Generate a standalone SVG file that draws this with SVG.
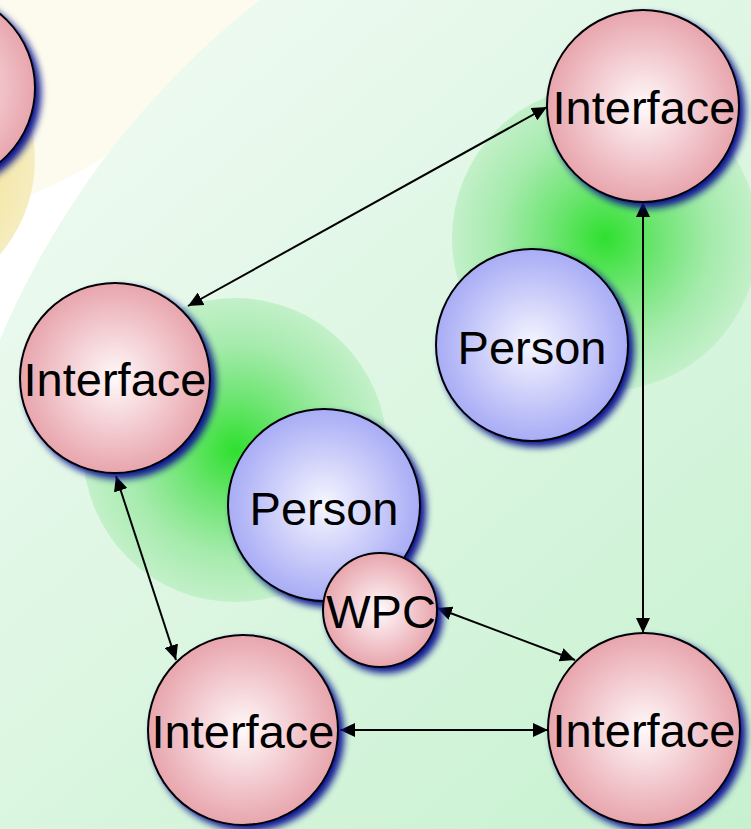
<svg xmlns="http://www.w3.org/2000/svg" width="751" height="829" viewBox="0 0 751 829">
  <defs>
    <linearGradient id="bgGreen" gradientUnits="userSpaceOnUse" x1="100" y1="80" x2="751" y2="829">
      <stop offset="0" stop-color="#eefaf1"/>
      <stop offset="1" stop-color="#c6f1cf"/>
    </linearGradient>
    <radialGradient id="glowGreen">
      <stop offset="0" stop-color="#2fe02f"/>
      <stop offset="0.35" stop-color="#6fe573"/>
      <stop offset="0.7" stop-color="#a6ebad"/>
      <stop offset="1" stop-color="#c3f0c9"/>
    </radialGradient>
    <radialGradient id="glowYellow">
      <stop offset="0" stop-color="#efdc6a"/>
      <stop offset="0.6" stop-color="#f2e49a"/>
      <stop offset="1" stop-color="#f6edc0"/>
    </radialGradient>
    <radialGradient id="fillInterface">
      <stop offset="0" stop-color="#fff9fa"/>
      <stop offset="1" stop-color="#e8a5ad"/>
    </radialGradient>
    <radialGradient id="fillPerson">
      <stop offset="0" stop-color="#f6f6ff"/>
      <stop offset="1" stop-color="#a8acf5"/>
    </radialGradient>
    <filter id="shadow" x="-20%" y="-20%" width="150%" height="150%">
      <feDropShadow dx="5" dy="5" stdDeviation="3.5" flood-color="#0a1890" flood-opacity="1"/>
    </filter>
    <marker id="tip" viewBox="0 0 15 14" refX="15" refY="7" markerWidth="15" markerHeight="14" markerUnits="userSpaceOnUse" orient="auto-start-reverse">
      <path d="M0,0 L15,7 L0,14 z" fill="#000"/>
    </marker>
    <style>
      .iface { fill: url(#fillInterface); stroke: #000; stroke-width: 2; filter: url(#shadow); }
      .person { fill: url(#fillPerson); stroke: #000; stroke-width: 2; filter: url(#shadow); }
      .label { font-family: "Liberation Sans", Arial, sans-serif; font-size: 47px; fill: #000; text-anchor: middle; }
      .link { stroke: #000; stroke-width: 2; fill: none; marker-start: url(#tip); marker-end: url(#tip); }
    </style>
  </defs>

  <!-- background regions -->
  <rect x="0" y="0" width="751" height="829" fill="#ffffff"/>
  <circle cx="-150" cy="-250" r="480" fill="#fdfbee"/>
  <circle cx="789" cy="674" r="857" fill="url(#bgGreen)"/>

  <!-- glows -->
  <circle cx="-110" cy="160" r="145" fill="url(#glowYellow)"/>
  <circle cx="605" cy="238" r="153" fill="url(#glowGreen)"/>
  <circle cx="235" cy="450" r="152" fill="url(#glowGreen)"/>

  <!-- connectors -->
  <g id="connectors">
    <line class="link" x1="547" y1="107" x2="188" y2="306"/>
    <line class="link" x1="643" y1="202" x2="643" y2="633"/>
    <line class="link" x1="116" y1="476" x2="176" y2="660"/>
    <line class="link" x1="437" y1="608" x2="575" y2="660"/>
    <line class="link" x1="340" y1="730" x2="548" y2="730"/>
  </g>

  <!-- nodes -->
  <g id="interface-topleft">
    <circle class="iface" cx="-61" cy="88" r="96"/>
  </g>
  <g id="interface-topright">
    <circle class="iface" cx="643" cy="106" r="96"/>
    <text class="label" x="644" y="124">Interface</text>
  </g>
  <g id="person-right">
    <circle class="person" cx="532" cy="345" r="96"/>
    <text class="label" x="532" y="364">Person</text>
  </g>
  <g id="interface-left">
    <circle class="iface" cx="115" cy="378" r="95"/>
    <text class="label" x="115" y="396">Interface</text>
  </g>
  <g id="person-center">
    <circle class="person" cx="324" cy="505" r="96"/>
    <text class="label" x="324" y="525">Person</text>
  </g>
  <g id="wpc">
    <circle class="iface" cx="380" cy="610" r="57"/>
    <text class="label" x="381" y="628">WPC</text>
  </g>
  <g id="interface-bottomleft">
    <circle class="iface" cx="243" cy="730" r="95"/>
    <text class="label" x="243" y="748">Interface</text>
  </g>
  <g id="interface-bottomright">
    <circle class="iface" cx="644" cy="729" r="96"/>
    <text class="label" x="644" y="747">Interface</text>
  </g>
</svg>
